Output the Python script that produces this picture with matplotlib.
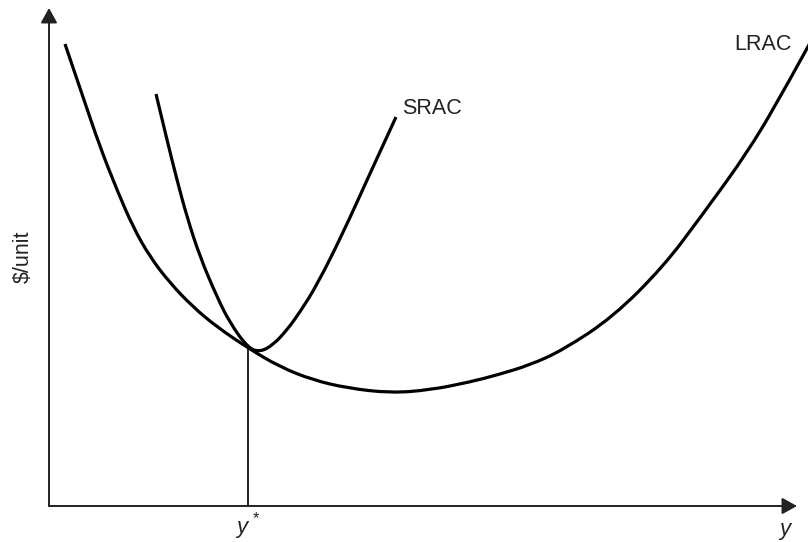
import matplotlib
matplotlib.use("Agg")
import matplotlib.pyplot as plt
from matplotlib.path import Path
from matplotlib.patches import PathPatch

plt.rcParams['font.family'] = ['Liberation Sans', 'DejaVu Sans']

# output (arbitrary units) and $/unit
lrac_q = [16, 34, 51, 68, 84, 101, 121, 144, 168, 199, 231, 264, 298, 341,
          381, 421, 448, 481, 514, 564, 614, 651, 701, 738, 761]
lrac_c = [462, 409, 359, 316, 279, 249, 223, 199, 179, 158, 139, 126, 118, 113,
          116, 124, 131, 141, 156, 189, 239, 288, 357, 421, 463]

srac_q = [107, 118, 128, 138, 151, 168, 181, 199, 211, 224, 238, 251, 268, 294, 318, 347]
srac_c = [412, 366, 326, 289, 249, 209, 183, 158, 154, 161, 176, 194, 221, 273, 326, 389]

y_star = 199
c_star = 158
q_max = 748
c_max = 498


def curve(ax, q, c, lw=2.3):
    # quadratic bezier through the midpoints, read points used as control points
    verts = [(q[0], c[0])]
    codes = [Path.MOVETO]
    n = len(q)
    for i in range(1, n - 2):
        verts += [(q[i], c[i]), ((q[i] + q[i + 1]) / 2, (c[i] + c[i + 1]) / 2)]
        codes += [Path.CURVE3, Path.CURVE3]
    verts += [(q[n - 2], c[n - 2]), (q[n - 1], c[n - 1])]
    codes += [Path.CURVE3, Path.CURVE3]
    ax.add_patch(PathPatch(Path(verts, codes), fill=False, edgecolor='black',
                           lw=lw, capstyle='butt', joinstyle='round'))


def draw_axis(ax, x0, y0, x1, y1):
    ax.annotate('', xy=(x1, y1), xytext=(x0, y0),
                arrowprops=dict(arrowstyle='-|>,head_length=0.9,head_width=0.5',
                                mutation_scale=10, lw=1.4, color='#222222',
                                shrinkA=0, shrinkB=0))


fig = plt.figure(figsize=(8.08, 5.42), dpi=100)
ax = fig.add_axes([0, 0, 1, 1])
ax.set_xlim(-49, 759)
ax.set_ylim(-36, 506)
ax.axis('off')

draw_axis(ax, 0, 0, q_max, 0)
draw_axis(ax, 0, 0, 0, c_max)

curve(ax, lrac_q, lrac_c)
curve(ax, srac_q, srac_c)
ax.plot([y_star, y_star], [0, c_star], color='black', lw=1.2)

ax.text(353, 398, 'SRAC', fontsize=15.5, ha='left', va='center', color='#222222')
ax.text(714, 461, 'LRAC', fontsize=15.5, ha='center', va='center', color='#222222')
ax.text(-26, 249, '$/unit', fontsize=15.5, ha='center', va='center', rotation=90, color='#222222')
ax.text(y_star - 6, -21, 'y', fontsize=16, style='italic', ha='center', va='center', color='#222222')
ax.text(y_star + 8, -13, '*', fontsize=12, ha='center', va='center', color='#222222')
ax.text(736, -24, 'y', fontsize=16, style='italic', ha='center', va='center', color='#222222')

fig.savefig('out.png', dpi=100)
